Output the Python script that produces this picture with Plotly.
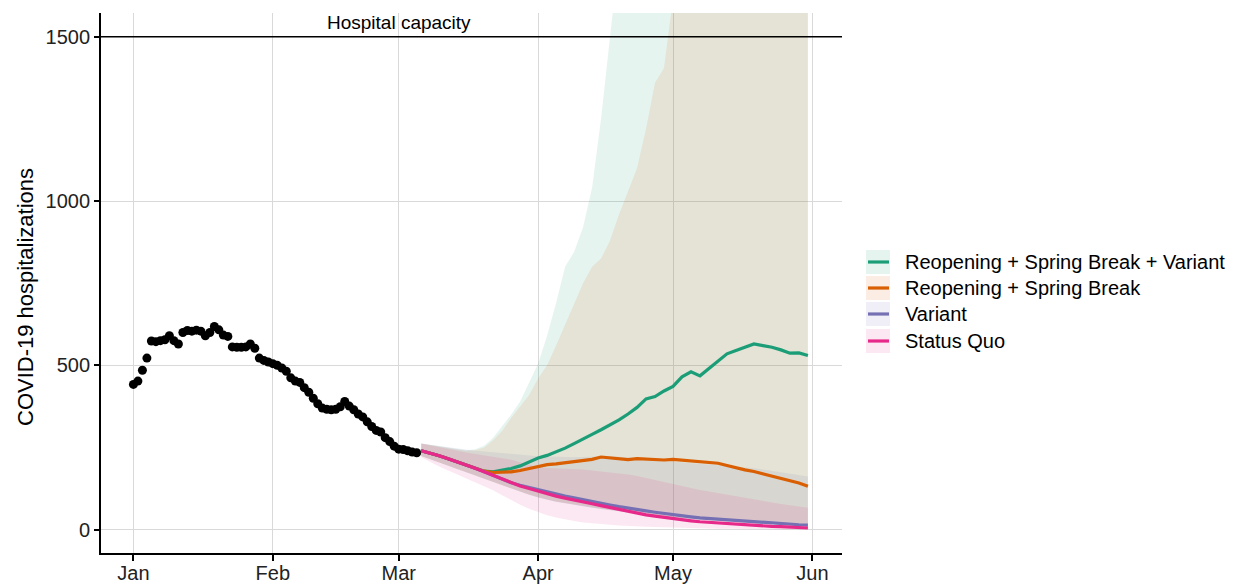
import pandas as pd
import plotly.graph_objects as go

# ---------------- data ----------------
obs_start = "2021-01-01"
observed = [442, 452, 485, 522, 574, 572, 575, 578, 590, 575, 565, 600, 606, 604, 607, 604,
            590, 600, 618, 608, 592, 588, 556, 555, 555, 556, 565, 552, 522, 515, 510, 505,
            500, 492, 482, 462, 452, 448, 432, 418, 400, 383, 370, 366, 365, 366, 374, 390,
            376, 365, 352, 343, 328, 314, 302, 297, 280, 268, 254, 245, 244, 240, 236, 234]

proj_start = "2021-03-06"
proj_end = "2021-05-31"

rsbv_mid = [240, 233, 225, 216, 207, 197, 187, 178, 176, 180, 186, 194, 205, 218, 226, 236,
            248, 262, 275, 290, 304, 318, 334, 352, 372, 398, 405, 422, 436, 465, 480, 468,
            490, 510, 535, 545, 555, 565, 560, 555, 547, 537, 538, 530]
rsbv_lo = [224, 214, 204, 194, 184, 174, 164, 154, 144, 134, 124, 115, 106, 98, 91, 85,
           80, 75, 71, 67, 63, 59, 55, 51, 48, 45, 42, 39, 36, 34, 32, 30,
           28, 26, 24, 22, 20, 18, 16, 15, 14, 13, 12, 11]
rsbv_hi = [262, 258, 254, 250, 246, 242, 245, 255, 280, 315, 350, 390, 445, 505, 590, 690,
           800, 845, 920, 1040, 1250, 1480, 1750, 2000, 2300, 2650, 2900, 3250, 3500, 3850, 4100, 4400,
           4750, 5000, 5300, 5650, 5900, 6200, 6550, 6800, 7100, 7450, 7700, 8000]

rsb_mid = [240, 233, 225, 216, 207, 197, 187, 178, 174, 174, 176, 180, 186, 193, 198, 200,
           203, 206, 210, 214, 221, 218, 216, 213, 216, 215, 214, 212, 214, 212, 210, 207,
           204, 202, 195, 188, 182, 177, 170, 163, 155, 148, 142, 132]
rsb_lo = [224, 214, 204, 195, 185, 175, 165, 155, 145, 135, 125, 116, 107, 99, 92, 86,
          81, 76, 72, 68, 64, 60, 56, 52, 49, 46, 43, 40, 37, 35, 33, 31,
          29, 27, 25, 23, 21, 19, 17, 16, 15, 14, 13, 12]
rsb_hi = [262, 257, 252, 248, 244, 240, 242, 250, 272, 300, 340, 375, 410, 460, 500, 560,
          625, 690, 750, 800, 825, 880, 960, 1030, 1100, 1220, 1360, 1405, 1600, 1800, 2000, 2250,
          2500, 2750, 3000, 3300, 3600, 3900, 4200, 4500, 4800, 5100, 5400, 5700]

variant_mid = [240, 233, 225, 216, 207, 197, 187, 176, 165, 154, 143, 135, 128, 121, 114, 108,
               102, 97, 91, 86, 81, 75, 70, 65, 61, 57, 53, 49, 45, 42, 39, 36,
               34, 31, 29, 27, 25, 23, 21, 19, 18, 16, 15, 14]
variant_lo = [224, 214, 204, 194, 184, 174, 164, 154, 144, 134, 124, 115, 106, 98, 91, 85,
              80, 75, 71, 67, 63, 59, 55, 51, 48, 45, 42, 39, 36, 34, 32, 30,
              28, 26, 24, 22, 20, 18, 16, 15, 14, 13, 12, 11]
variant_hi = [262, 258, 254, 250, 246, 242, 240, 238, 236, 233, 230, 228, 226, 223, 222, 221,
              220, 220, 221, 222, 223, 223, 222, 220, 218, 216, 213, 210, 207, 205, 203, 200,
              198, 196, 193, 191, 189, 187, 183, 179, 175, 170, 166, 162]

sq_mid = [240, 233, 225, 216, 207, 197, 187, 176, 165, 153, 142, 133, 125, 117, 109, 102,
          96, 91, 85, 79, 73, 67, 61, 55, 50, 45, 41, 37, 33, 30, 27, 24,
          22, 20, 18, 16, 15, 13, 12, 10, 9, 7, 6, 5]
sq_lo = [220, 205, 192, 180, 168, 156, 145, 133, 120, 105, 90, 76, 64, 53, 44, 37,
         31, 26, 22, 19, 17, 15, 13, 11, 10, 9, 8, 7, 6, 5, 4, 4,
         3, 3, 3, 2, 2, 2, 2, 1, 1, 1, 1, 1]
sq_hi = [262, 256, 250, 245, 240, 235, 230, 226, 222, 217, 213, 205, 197, 190, 188, 187,
         186, 185, 183, 180, 177, 175, 172, 168, 163, 157, 150, 144, 137, 132, 126, 121,
         116, 111, 106, 101, 96, 91, 87, 83, 78, 74, 70, 67]

scenario_names = ["Reopening + Spring Break + Variant", "Reopening + Spring Break",
                  "Variant", "Status Quo"]
scenario_colors = ["#1B9E77", "#D95F02", "#7570B3", "#E7298A"]

month_ticks = ["2021-01-01", "2021-02-01", "2021-03-01", "2021-04-01", "2021-05-01", "2021-06-01"]
month_labels = ["Jan", "Feb", "Mar", "Apr", "May", "Jun"]
y_ticks = [0, 500, 1000, 1500]
y_title = "COVID-19 hospitalizations"
capacity = 1500
capacity_label = "Hospital capacity"
capacity_label_date = "2021-03-01"

# ---------------- layout helpers (pixel geometry) ----------------
W, H = 1249, 584
PL, PR, PT, PB = 101, 842, 13, 553          # plot area in pixels


def px_x(px):
    return (px - PL) / (PR - PL)


def px_y(py):
    return (PB - py) / (PB - PT)


def rgba(hex_color, a):
    h = hex_color.lstrip("#")
    r, g, b = int(h[0:2], 16), int(h[2:4], 16), int(h[4:6], 16)
    return f"rgba({r},{g},{b},{a})"


obs_dates = pd.date_range(obs_start, periods=len(observed), freq="D")
proj_dates = pd.date_range(proj_start, proj_end, freq="2D")

mids = [rsbv_mid, rsb_mid, variant_mid, sq_mid]
los = [rsbv_lo, rsb_lo, variant_lo, sq_lo]
his = [rsbv_hi, rsb_hi, variant_hi, sq_hi]

FILL_ALPHA = 0.11

fig = go.Figure()

# ribbons
for name, col, lo, hi in zip(scenario_names, scenario_colors, los, his):
    fig.add_trace(go.Scatter(x=proj_dates, y=lo, mode="lines", line=dict(width=0),
                             showlegend=False, hoverinfo="skip"))
    fig.add_trace(go.Scatter(x=proj_dates, y=hi, mode="lines", line=dict(width=0),
                             fill="tonexty", fillcolor=rgba(col, FILL_ALPHA),
                             showlegend=False, hoverinfo="skip"))

# observed points
fig.add_trace(go.Scatter(x=obs_dates, y=observed, mode="markers",
                         marker=dict(size=9, color="black"), showlegend=False))

# median lines
for name, col, mid in zip(scenario_names, scenario_colors, mids):
    fig.add_trace(go.Scatter(x=proj_dates, y=mid, mode="lines", name=name,
                             line=dict(color=col, width=3.2), showlegend=False))

# capacity line + label
fig.add_shape(type="line", xref="paper", x0=0, x1=1, yref="y", y0=capacity, y1=capacity,
              line=dict(color="black", width=1.5), layer="above")
fig.add_annotation(x=capacity_label_date, y=capacity, text=capacity_label, showarrow=False,
                   yanchor="bottom", yshift=2, font=dict(size=19, color="black"))

# y-axis title
fig.add_annotation(xref="paper", yref="paper", x=px_x(25), y=px_y(297), text=y_title,
                   textangle=-90, showarrow=False, xanchor="center", yanchor="middle",
                   font=dict(size=22, color="black"))

# legend (ggplot style keys: light fill square with a line)
row_y = [262, 288, 314, 341]
for name, col, ry in zip(scenario_names, scenario_colors, row_y):
    fig.add_shape(type="rect", xref="paper", yref="paper",
                  x0=px_x(866), x1=px_x(890), y0=px_y(ry + 12), y1=px_y(ry - 12),
                  fillcolor=rgba(col, FILL_ALPHA), line=dict(width=0), layer="above")
    fig.add_shape(type="line", xref="paper", yref="paper",
                  x0=px_x(868), x1=px_x(889), y0=px_y(ry), y1=px_y(ry),
                  line=dict(color=col, width=3.2), layer="above")
    fig.add_annotation(xref="paper", yref="paper", x=px_x(903), y=px_y(ry), text=name,
                       showarrow=False, xanchor="left", yanchor="middle",
                       font=dict(size=20, color="black"))

fig.update_layout(
    width=W, height=H,
    margin=dict(l=PL, r=W - PR, t=PT, b=H - PB),
    plot_bgcolor="white", paper_bgcolor="white",
    font=dict(family="Liberation Sans, Arial, sans-serif", size=20, color="#222222"),
    showlegend=False,
)
fig.update_xaxes(
    type="date", range=["2020-12-24 19:00", "2021-06-07 14:00"],
    tickvals=month_ticks, ticktext=month_labels,
    showgrid=True, gridcolor="#D9D9D9", gridwidth=1.3,
    showline=True, linecolor="black", linewidth=1.8,
    ticks="outside", ticklen=6, tickwidth=1.5, tickcolor="black",
    tickfont=dict(size=20, color="#222222"), ticklabelstandoff=-5,
    zeroline=False, automargin=False,
)
fig.update_yaxes(
    range=[-71, 1572], tickvals=y_ticks,
    showgrid=True, gridcolor="#D9D9D9", gridwidth=1.3,
    showline=True, linecolor="black", linewidth=1.8,
    ticks="outside", ticklen=5, tickwidth=1.5, tickcolor="black",
    tickfont=dict(size=20, color="#222222"), zeroline=False, automargin=False,
)

fig.write_html("out.html")
